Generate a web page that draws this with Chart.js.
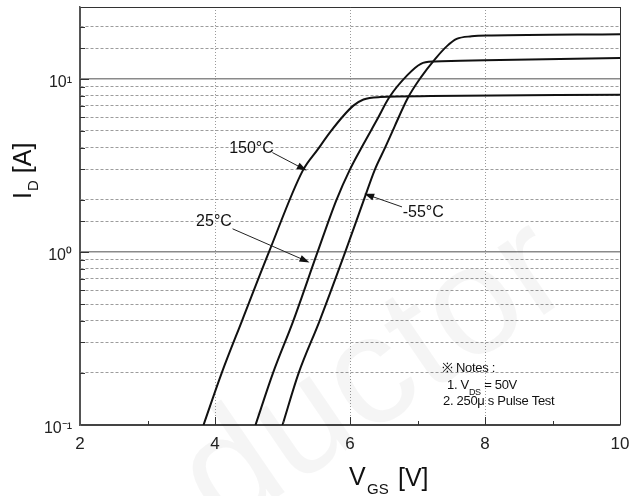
<!DOCTYPE html>
<html>
<head>
<meta charset="utf-8">
<script src="https://cdn.jsdelivr.net/npm/chart.js@4/dist/chart.umd.min.js"></script>
<style>
html, body { margin: 0; padding: 0; background: #fff; }
#caja { width: 639px; height: 496px; }
</style>
</head>
<body>
<div id="caja"><canvas id="grafica" width="639" height="496"></canvas></div>
<script>
// ID vs VGS
var vgs150 = [3.83, 4.10, 4.40, 4.80, 5.30, 5.52, 5.72, 5.90, 6.05, 6.20, 6.45, 7.20, 10];
var id150  = [0.1, 0.2, 0.4, 1.0, 2.95, 3.9, 5.0, 6.1, 7.0, 7.6, 7.85, 7.95, 8.1];
var vgs25  = [4.60, 4.86, 5.16, 5.52, 5.80, 6.00, 6.20, 6.40, 6.58, 6.85, 7.05, 7.25, 8.0, 10];
var id25   = [0.1, 0.2, 0.4, 1.0, 2.0, 3.0, 4.2, 5.8, 7.8, 10.5, 12.2, 12.6, 12.8, 13.2];
var vgsM55 = [5.00, 5.24, 5.55, 5.93, 6.20, 6.37, 6.52, 6.66, 6.86, 7.05, 7.26, 7.44, 7.58, 7.80, 8.10, 10];
var idM55  = [0.1, 0.2, 0.4, 1.0, 1.97, 3.0, 4.0, 5.3, 7.8, 10.2, 13.0, 15.5, 17.0, 17.6, 17.8, 18.1];

var xTicks = [2, 4, 6, 8, 10];
var yTicks = [0.1, 1, 10];
var yTickLabels = ['10\u207B\u00B9', '10\u2070', '10\u00B9'];

// labels: text, anchor and arrow in data units (V, A)
var etiquetas = [
    { txt: '150\u00B0C', x: 4.21, y: 3.95, ax: 4.85, ay: 3.75, bx: 5.36, by: 2.95 },
    { txt: '25\u00B0C',  x: 3.72, y: 1.49, ax: 4.26, ay: 1.36, bx: 5.40, by: 0.87 },
    { txt: '-55\u00B0C', x: 6.78, y: 1.68, ax: 6.77, ay: 1.82, bx: 6.21, by: 2.17 }
];

var fuente = '"Liberation Sans", Arial, sans-serif';

function puntos(xs, ys){
    return xs.map(function(v, i){ return { x: v, y: ys[i] }; });
}

function esMayor(v){
    var e = Math.log10(v);
    return Math.abs(e - Math.round(e)) < 1e-9;
}

function flecha(ctx, x1, y1, x2, y2){
    var ang = Math.atan2(y2 - y1, x2 - x1);
    ctx.beginPath();
    ctx.moveTo(x1, y1);
    ctx.lineTo(x2 - 8 * Math.cos(ang), y2 - 8 * Math.sin(ang));
    ctx.stroke();
    ctx.beginPath();
    ctx.moveTo(x2, y2);
    ctx.lineTo(x2 - 10 * Math.cos(ang) + 3.5 * Math.sin(ang), y2 - 10 * Math.sin(ang) - 3.5 * Math.cos(ang));
    ctx.lineTo(x2 - 10 * Math.cos(ang) - 3.5 * Math.sin(ang), y2 - 10 * Math.sin(ang) + 3.5 * Math.cos(ang));
    ctx.closePath();
    ctx.fill();
}

var extras = {
    id: 'extras',
    beforeDatasetsDraw: function(chart){
        var ctx = chart.ctx;
        ctx.save();
        ctx.translate(222, 535);
        ctx.rotate(-0.6);
        ctx.font = '155px ' + fuente;
        ctx.fillStyle = 'rgba(0,0,0,0.04)';
        ctx.fillText('ductor', 0, 0);
        ctx.restore();
    },
    afterDraw: function(chart){
        var ctx = chart.ctx, xs = chart.scales.x, ys = chart.scales.y, area = chart.chartArea;
        ctx.save();

        // inward tick marks
        ctx.strokeStyle = '#333';
        ctx.lineWidth = 1;
        for (var v = 3; v < 10; v++){
            var px = Math.round(xs.getPixelForValue(v)) + 0.5;
            ctx.beginPath();
            ctx.moveTo(px, area.bottom);
            ctx.lineTo(px, area.bottom - (v % 2 === 0 ? 8 : 4));
            ctx.stroke();
        }
        ys.ticks.forEach(function(t){
            if (t.value <= 0.1 || t.value >= ys.max) return;
            var py = Math.round(ys.getPixelForValue(t.value)) + 0.5;
            ctx.beginPath();
            ctx.moveTo(area.left, py);
            ctx.lineTo(area.left + (esMayor(t.value) ? 9 : 5), py);
            ctx.stroke();
        });

        // axis titles
        ctx.fillStyle = '#111';
        ctx.textBaseline = 'alphabetic';
        ctx.textAlign = 'left';
        ctx.font = '25px ' + fuente;
        ctx.fillText('V', 349, 485);
        ctx.font = '15px ' + fuente;
        ctx.fillText('GS', 367, 494);
        ctx.font = '25px ' + fuente;
        ctx.fillText('[V]', 398, 486);

        ctx.save();
        ctx.translate(31, 199);
        ctx.rotate(-Math.PI / 2);
        ctx.font = '25px ' + fuente;
        ctx.fillText('I', 0, 0);
        var w = ctx.measureText('I').width;
        ctx.font = '15px ' + fuente;
        ctx.fillText('D', w + 1, 7);
        w += ctx.measureText('D').width + 8;
        ctx.font = '25px ' + fuente;
        ctx.fillText('[A]', w, 0);
        ctx.restore();

        // curve labels with arrows
        ctx.font = '16px ' + fuente;
        ctx.textBaseline = 'middle';
        ctx.strokeStyle = '#222';
        ctx.fillStyle = '#111';
        etiquetas.forEach(function(e){
            ctx.fillText(e.txt, xs.getPixelForValue(e.x), ys.getPixelForValue(e.y));
            flecha(ctx, xs.getPixelForValue(e.ax), ys.getPixelForValue(e.ay),
                        xs.getPixelForValue(e.bx), ys.getPixelForValue(e.by));
        });

        // notes
        ctx.textBaseline = 'alphabetic';
        ctx.letterSpacing = '-0.3px';
        ctx.font = '13px ' + fuente;
        ctx.fillText('\u203B Notes :', 442, 372);
        ctx.fillText('1. V', 447, 389);
        var w2 = ctx.measureText('1. V').width;
        ctx.font = '9px ' + fuente;
        ctx.fillText('DS', 447 + w2, 395);
        var w3 = ctx.measureText('DS').width;
        ctx.font = '13px ' + fuente;
        ctx.fillText(' = 50V', 447 + w2 + w3, 389);
        ctx.fillText('2. 250\u03BC s Pulse Test', 443, 405);
        ctx.restore();
    }
};

function serie(xs, ys){
    return {
        data: puntos(xs, ys),
        borderColor: '#111',
        borderWidth: 2,
        pointRadius: 0,
        fill: false,
        cubicInterpolationMode: 'monotone'
    };
}

var grafica = new Chart(document.getElementById('grafica'), {
    type: 'line',
    data: {
        datasets: [serie(vgs150, id150), serie(vgs25, id25), serie(vgsM55, idM55)]
    },
    options: {
        responsive: false,
        animation: false,
        layout: { padding: { top: 7, right: 19, left: 0, bottom: 0 } },
        plugins: { legend: { display: false }, tooltip: { enabled: false } },
        scales: {
            x: {
                type: 'linear',
                min: 2,
                max: 10,
                afterFit: function(s){ s.height = 71; s.paddingLeft = 0; s.paddingRight = 0; },
                ticks: {
                    stepSize: 1,
                    autoSkip: false,
                    maxRotation: 0,
                    padding: 9,
                    color: '#222',
                    font: { family: fuente, size: 17 },
                    callback: function(v){ return xTicks.indexOf(v) >= 0 ? String(v) : ''; }
                },
                grid: {
                    drawTicks: false,
                    color: function(c){
                        if (!c.tick) return '#444';
                        if (c.tick.value === 10) return '#333';
                        if (c.tick.value === 2) return '#555';
                        return c.tick.value % 2 === 0 ? '#9a9a9a' : 'rgba(0,0,0,0)';
                    },
                    lineWidth: 1
                },
                border: {
                    color: '#444',
                    width: 1.5,
                    dash: function(c){
                        if (!c.tick || c.tick.value === 10 || c.tick.value === 2) return [];
                        return [1, 2];
                    }
                }
            },
            y: {
                type: 'logarithmic',
                min: 0.1,
                max: 26,
                afterFit: function(s){ s.width = 80; s.paddingTop = 0; s.paddingBottom = 0; },
                ticks: {
                    autoSkip: false,
                    padding: 8,
                    labelOffset: 4,
                    color: '#222',
                    font: { family: fuente, size: 16 },
                    callback: function(v){
                        for (var i = 0; i < yTicks.length; i++){
                            if (Math.abs(v - yTicks[i]) < 1e-9) return yTickLabels[i];
                        }
                        return '';
                    }
                },
                grid: {
                    drawTicks: false,
                    color: function(c){
                        if (!c.tick) return '#444';
                        if (c.tick.value >= 25.9) return '#333';
                        if (c.tick.value <= 0.1001) return '#444';
                        return esMayor(c.tick.value) ? '#8a8a8a' : '#9c9c9c';
                    },
                    lineWidth: function(c){
                        if (c.tick && esMayor(c.tick.value) && c.tick.value > 0.11) return 1.6;
                        return 1;
                    }
                },
                border: {
                    color: '#555',
                    width: 1.5,
                    dash: function(c){
                        if (!c.tick || c.tick.value >= 25.9 || esMayor(c.tick.value)) return [];
                        return [3, 2];
                    }
                }
            }
        }
    },
    plugins: [extras]
});
</script>
</body>
</html>
